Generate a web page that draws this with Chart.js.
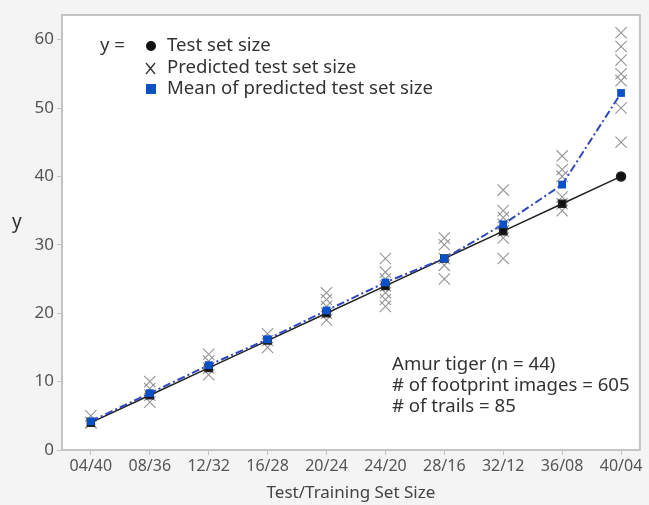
<!DOCTYPE html>
<html>
<head>
<meta charset="utf-8">
<script src="https://cdn.jsdelivr.net/npm/chart.js@4/dist/chart.umd.min.js"></script>
<style>
  html, body { margin: 0; padding: 0; background: #f4f4f4; }
  #wrap { width: 649px; height: 505px; }
</style>
</head>
<body>
<div id="wrap"><canvas id="chart" width="649" height="505"></canvas></div>
<script>
// --- Data ---
const categories = ['04/40', '08/36', '12/32', '16/28', '20/24', '24/20', '28/16', '32/12', '36/08', '40/04'];
const testSetSize = [4, 8, 12, 16, 20, 24, 28, 32, 36, 40];
const meanPredicted = [4.2, 8.3, 12.4, 16.2, 20.4, 24.5, 28.0, 33.0, 38.8, 52.2];
const predicted = [
    [5, 4, 4],
    [10, 9, 8, 7],
    [14, 13, 12, 11],
    [17, 16, 15],
    [23, 22, 21, 20, 19],
    [28, 26, 25, 24, 23, 22, 21],
    [31, 30, 28, 27, 25],
    [38, 35, 34, 33, 32, 31, 28],
    [43, 41, 40, 37, 36, 35],
    [61, 59, 57, 55, 54, 50, 45]
];
const yTicks = [0, 10, 20, 30, 40, 50, 60];
const noteLines = ['Amur tiger (n = 44)', '# of footprint images = 605', '# of trails = 85'];

const fontFamily = '"Noto Sans", "Open Sans", sans-serif';
const tickColor = '#555';
const frameColor = '#c4c4c4';
const blue = '#0a50c8';
const blueLine = '#3048c0';

const crossPoints = [];
predicted.forEach((vals, i) => vals.forEach(v => crossPoints.push({ x: i, y: v })));

// white plot area + frame, legend and note
const decor = {
    id: 'decor',
    beforeDraw(chart) {
        const { ctx, chartArea: a } = chart;
        ctx.save();
        ctx.fillStyle = '#fff';
        ctx.fillRect(a.left, a.top, a.right - a.left, a.bottom - a.top);
        ctx.restore();
    },
    afterDraw(chart) {
        const { ctx, chartArea: a } = chart;
        ctx.save();
        ctx.strokeStyle = frameColor;
        ctx.lineWidth = 2;
        ctx.strokeRect(a.left, a.top, a.right - a.left, a.bottom - a.top);

        // y label
        ctx.fillStyle = '#333';
        ctx.font = '19px ' + fontFamily;
        ctx.textBaseline = 'middle';
        ctx.textAlign = 'left';
        ctx.fillText('y', 12, 223);

        // legend
        ctx.font = '18.6px ' + fontFamily;
        ctx.fillText('y =', 100, 46);
        ctx.fillText('Test set size', 167, 46);
        ctx.fillText('Predicted test set size', 167, 68);
        ctx.fillText('Mean of predicted test set size', 167, 89);
        ctx.fillStyle = '#111';
        ctx.beginPath(); ctx.arc(151, 46, 5, 0, Math.PI * 2); ctx.fill();
        ctx.strokeStyle = '#333'; ctx.lineWidth = 1.3;
        ctx.beginPath();
        ctx.moveTo(146, 63); ctx.lineTo(155, 74);
        ctx.moveTo(155, 63); ctx.lineTo(146, 74);
        ctx.stroke();
        ctx.fillStyle = blue;
        ctx.fillRect(146, 84, 10, 10);

        // note
        ctx.fillStyle = '#333';
        noteLines.forEach((t, i) => ctx.fillText(t, 392, 365 + i * 21));
        ctx.restore();
    }
};

new Chart(document.getElementById('chart').getContext('2d'), {
    type: 'scatter',
    data: {
        datasets: [
            {
                label: 'Predicted test set size',
                data: crossPoints,
                pointStyle: 'crossRot',
                pointRadius: 8,
                borderColor: '#959595',
                borderWidth: 1.1,
                showLine: false,
                order: 3
            },
            {
                label: 'Test set size',
                data: testSetSize.map((v, i) => ({ x: i, y: v })),
                showLine: true,
                borderColor: '#222',
                backgroundColor: '#111',
                borderWidth: 1.5,
                pointStyle: testSetSize.map((v, i) => i === testSetSize.length - 1 ? 'circle' : 'rect'),
                pointRadius: testSetSize.map((v, i) => i === testSetSize.length - 1 ? 4.5 : 5),
                order: 2
            },
            {
                label: 'Mean of predicted test set size',
                data: meanPredicted.map((v, i) => ({ x: i, y: v })),
                showLine: true,
                borderColor: blueLine,
                backgroundColor: blue,
                borderWidth: 2,
                borderDash: [8, 3, 2, 3],
                pointStyle: 'rect',
                pointRadius: 5.5,
                pointBorderColor: blue,
                pointBorderWidth: 0,
                order: 1
            }
        ]
    },
    options: {
        responsive: false,
        animation: false,
        layout: { padding: { left: 0, right: 8, top: 15, bottom: 0 } },
        plugins: { legend: { display: false }, tooltip: { enabled: false } },
        scales: {
            x: {
                type: 'linear',
                min: -0.49,
                max: 9.32,
                afterBuildTicks: axis => { axis.ticks = categories.map((c, i) => ({ value: i })); },
                afterFit: axis => { axis.height = 55; },
                grid: { drawOnChartArea: false, drawTicks: true, tickLength: 5, color: frameColor },
                border: { color: frameColor, width: 2 },
                ticks: {
                    font: { family: fontFamily, size: 16 }, color: tickColor, padding: 2,
                    maxRotation: 0, autoSkip: false,
                    callback: v => categories[v]
                },
                title: {
                    display: true, text: 'Test/Training Set Size',
                    font: { family: fontFamily, size: 17 }, color: '#444',
                    padding: { top: 0, bottom: 2 }
                }
            },
            y: {
                min: 0,
                max: 63.6,
                afterBuildTicks: axis => { axis.ticks = yTicks.map(v => ({ value: v })); },
                afterFit: axis => { axis.width = 62; },
                grid: { drawOnChartArea: false, drawTicks: true, tickLength: 5, color: frameColor },
                border: { color: frameColor, width: 2 },
                ticks: { font: { family: fontFamily, size: 17 }, color: tickColor, padding: 3 }
            }
        }
    },
    plugins: [decor]
});
</script>
</body>
</html>
